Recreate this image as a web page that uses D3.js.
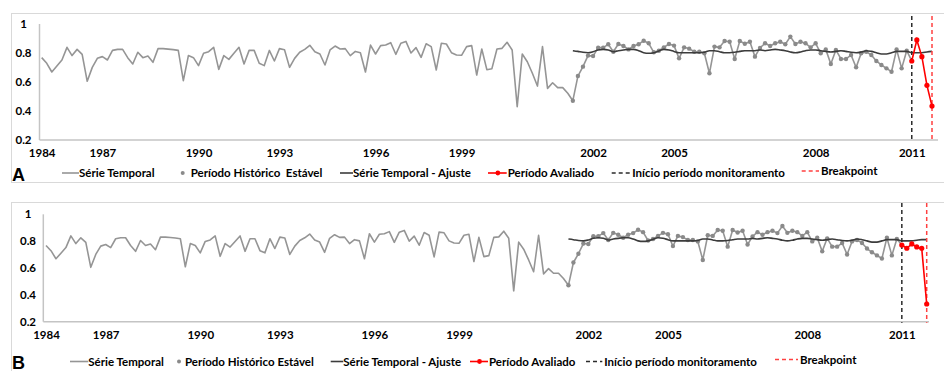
<!DOCTYPE html>
<html>
<head>
<meta charset="utf-8">
<script src="https://cdn.jsdelivr.net/npm/d3@7/dist/d3.min.js"></script>
<style>
  body { margin: 0; background: #fff; }
  svg { display: block; font-family: Lato, "Open Sans", sans-serif; font-weight: 700; }
</style>
</head>
<body>
<svg id="chart" width="944" height="371"></svg>
<script>
// Tick labels of the observation axis and the observation index they sit on
const yearLabels = ["1984", "1987", "1990", "1993", "1996", "1999", "2002", "2005", "2008", "2011"];
const yearIndex  = [0, 12, 31, 47, 66, 83, 109, 125, 153, 172];

// NDVI-like index, one value per observation (history before monitoring)
const serieTemporal = [
  0.768, 0.729, 0.669, 0.710, 0.752, 0.839, 0.782, 0.825, 0.791, 0.605,
  0.701, 0.763, 0.775, 0.752, 0.818, 0.825, 0.825, 0.768, 0.724, 0.805,
  0.768, 0.779, 0.736, 0.830, 0.830, 0.827, 0.823, 0.818, 0.609, 0.782,
  0.768, 0.713, 0.798, 0.809, 0.839, 0.687, 0.782, 0.756, 0.798, 0.839,
  0.724, 0.818, 0.818, 0.729, 0.713, 0.818, 0.745, 0.830, 0.823, 0.701,
  0.763, 0.805, 0.825, 0.853, 0.809, 0.793, 0.717, 0.821, 0.848, 0.828,
  0.830, 0.782, 0.811, 0.802, 0.669, 0.855, 0.793, 0.851, 0.855, 0.871,
  0.791, 0.867, 0.880, 0.800, 0.837, 0.770, 0.864, 0.844, 0.683, 0.867,
  0.862, 0.802, 0.786, 0.784, 0.844, 0.851, 0.648, 0.828, 0.685, 0.692,
  0.828, 0.832, 0.874, 0.821, 0.430, 0.793, 0.740, 0.660, 0.572, 0.844,
  0.556, 0.595, 0.561, 0.561, 0.522, 0.471, 0.641, 0.706, 0.782, 0.779,
  0.837, 0.837, 0.860, 0.809, 0.862, 0.848, 0.825, 0.848, 0.860, 0.885,
  0.867, 0.805, 0.816, 0.839, 0.862, 0.851, 0.763, 0.839, 0.830, 0.809,
  0.809, 0.798, 0.660, 0.844, 0.839, 0.883, 0.878, 0.759, 0.883, 0.864,
  0.878, 0.775, 0.835, 0.867, 0.848, 0.867, 0.878, 0.860, 0.913, 0.862,
  0.878, 0.867, 0.839, 0.867, 0.798, 0.825, 0.724, 0.821, 0.759, 0.759,
  0.786, 0.701, 0.798, 0.809, 0.786, 0.745, 0.717, 0.694, 0.671, 0.825,
  0.694, 0.816
];

// First observation of the stable history period and of the monitoring period
const inicioEstavel = 105;
const inicioMonitoramento = 172;

// Harmonic fit over the stable history, extended through monitoring
const ajusteA = [
  0.816, 0.811, 0.805, 0.802, 0.809, 0.821, 0.825, 0.821, 0.809, 0.816,
  0.821, 0.825, 0.825, 0.816, 0.802, 0.798, 0.802, 0.814, 0.825, 0.821,
  0.811, 0.802, 0.802, 0.802, 0.802, 0.802, 0.805, 0.816, 0.816, 0.809,
  0.802, 0.802, 0.805, 0.811, 0.816, 0.816, 0.816, 0.821, 0.816, 0.821,
  0.825, 0.821, 0.816, 0.807, 0.802, 0.807, 0.816, 0.821, 0.821, 0.816,
  0.811, 0.807, 0.811, 0.816, 0.811, 0.805, 0.802, 0.807, 0.816, 0.811,
  0.802, 0.793, 0.793, 0.802, 0.811, 0.811, 0.811, 0.802, 0.802, 0.802,
  0.807, 0.811
];
const ajusteB = ajusteA.concat([0.811]);

// Observations of the monitoring period
const avaliadoA = [0.745, 0.890, 0.775, 0.577, 0.434];
const avaliadoB = [0.771, 0.747, 0.779, 0.757, 0.747, 0.332];

const yTicks = [0.2, 0.4, 0.6, 0.8, 1];

const svg = d3.select("#chart");

const panels = [
  {
    letter: "A", avaliado: avaliadoA, ajuste: ajusteA,
    frameTop: 13.5, frameBottom: 182.5,
    yTop: 24, yBottom: 140, axisX: 39.5, xFirst: 41.7, xLast: 932, axisEnd: 938,
    dashTop: 16, yLabelX: 23.5, tickY: 146, legendY: 173, letterY: 181,
    legend: { serie: [62, 79], estavel: [182.7, 190.7], ajuste: [340, 353],
              avaliado: [488, 507.7], inicio: [611.7, 632.3], breakpoint: [801.7, 821] },
    estavelLabel: "Período Histórico  Estável"
  },
  {
    letter: "B", avaliado: avaliadoB, ajuste: ajusteB,
    frameTop: 202.5, frameBottom: 380,
    yTop: 214.3, yBottom: 321.7, axisX: 43.3, xFirst: 46, xLast: 926.7, axisEnd: 929,
    dashTop: 203, yLabelX: 28, tickY: 328, legendY: 361.5, letterY: 368.5,
    legend: { serie: [70, 88.3], estavel: [179, 185], ajuste: [330.7, 343.3],
              avaliado: [470, 489], inicio: [586, 604.3], breakpoint: [775, 800] },
    estavelLabel: "Período Histórico Estável"
  }
];

const grayLine = "#959595";
const grayDot = "#8a8a8a";
const fitColor = "#3c3c3c";
const red = "#ff0000";
const axisColor = "#c4c4c4";

panels.forEach(p => {
  const n = inicioMonitoramento + p.avaliado.length;
  const x = d3.scaleLinear().domain([0, n - 1]).range([p.xFirst, p.xLast]);
  const y = d3.scaleLinear().domain([0.2, 1]).range([p.yBottom, p.yTop]);

  const g = svg.append("g");

  // panel frame
  g.append("rect")
    .attr("x", 11.5).attr("y", p.frameTop)
    .attr("width", 940).attr("height", p.frameBottom - p.frameTop)
    .attr("fill", "none").attr("stroke", "#d9d9d9").attr("stroke-width", 1);

  // axis lines
  g.append("line").attr("x1", p.axisX).attr("x2", p.axisX)
    .attr("y1", p.yTop).attr("y2", p.yBottom)
    .attr("stroke", axisColor).attr("stroke-width", 1.5);
  g.append("line").attr("x1", p.axisX).attr("x2", p.axisEnd)
    .attr("y1", p.yBottom).attr("y2", p.yBottom)
    .attr("stroke", axisColor).attr("stroke-width", 1.5);

  // y axis labels
  const yAxis = d3.axisLeft(y).tickValues(yTicks).tickSize(0)
    .tickFormat(d => d === 1 ? "1" : d3.format(".1f")(d));
  const ya = g.append("g").attr("transform", `translate(${p.yLabelX},0)`).call(yAxis);
  ya.select(".domain").remove();
  ya.selectAll("text").attr("x", 0).attr("text-anchor", "middle")
    .attr("font-family", "Lato, 'Open Sans', sans-serif").attr("font-weight", 700)
    .attr("font-size", 11.5).attr("fill", "#000");

  // x axis labels (years at their observation index)
  const xAxis = d3.axisBottom(x).tickValues(yearIndex).tickSize(0)
    .tickFormat((d, i) => yearLabels[i]);
  const xa = g.append("g").attr("transform", `translate(0,${p.tickY})`).call(xAxis);
  xa.select(".domain").remove();
  xa.selectAll("text")
    .attr("font-family", "Lato, 'Open Sans', sans-serif").attr("font-weight", 700)
    .attr("font-size", 11.5).attr("fill", "#000");

  // full time series (gray line)
  const full = serieTemporal.concat(p.avaliado).map((v, i) => [i, v]);
  const line = d3.line().x(d => x(d[0])).y(d => y(d[1]));
  g.append("path").datum(full.slice(0, inicioMonitoramento + 1))
    .attr("d", line).attr("fill", "none")
    .attr("stroke", grayLine).attr("stroke-width", 1.6).attr("stroke-linejoin", "round");

  // stable history markers
  g.selectAll("circle.estavel")
    .data(full.slice(inicioEstavel, inicioMonitoramento))
    .join("circle").attr("class", "estavel")
    .attr("cx", d => x(d[0])).attr("cy", d => y(d[1])).attr("r", 2.2)
    .attr("fill", grayDot);

  // harmonic fit
  const fit = p.ajuste.map((v, i) => [inicioEstavel + i, v]);
  g.append("path").datum(fit).attr("d", d3.line().curve(d3.curveMonotoneX).x(d => x(d[0])).y(d => y(d[1])))
    .attr("fill", "none").attr("stroke", fitColor).attr("stroke-width", 1.6);

  // monitoring start and breakpoint
  g.append("line").attr("x1", x(inicioMonitoramento)).attr("x2", x(inicioMonitoramento))
    .attr("y1", p.dashTop).attr("y2", p.yBottom + 1)
    .attr("stroke", "#2b2b2b").attr("stroke-width", 1.5).attr("stroke-dasharray", "4,3");
  g.append("line").attr("x1", x(n - 1)).attr("x2", x(n - 1))
    .attr("y1", p.dashTop).attr("y2", p.yBottom + 1)
    .attr("stroke", "#ff4040").attr("stroke-width", 1.5).attr("stroke-dasharray", "4,3");

  // evaluated period
  const aval = full.slice(inicioMonitoramento);
  g.append("path").datum(aval).attr("d", line).attr("fill", "none")
    .attr("stroke", red).attr("stroke-width", 1.6);
  g.selectAll("circle.aval").data(aval).join("circle").attr("class", "aval")
    .attr("cx", d => x(d[0])).attr("cy", d => y(d[1])).attr("r", 2.6).attr("fill", red);

  // legend
  const L = p.legend, ly = p.legendY;
  const lg = g.append("g").attr("font-size", 11.5);
  const txt = (xx, s) => lg.append("text").attr("x", xx).attr("y", ly + 4)
    .attr("fill", "#000").style("white-space", "pre").text(s);

  lg.append("line").attr("x1", L.serie[0]).attr("x2", L.serie[1]).attr("y1", ly).attr("y2", ly)
    .attr("stroke", grayLine).attr("stroke-width", 1.6);
  txt(L.serie[1], "Série Temporal");

  lg.append("circle").attr("cx", L.estavel[0]).attr("cy", ly).attr("r", 2).attr("fill", grayDot);
  txt(L.estavel[1], p.estavelLabel);

  lg.append("line").attr("x1", L.ajuste[0]).attr("x2", L.ajuste[1]).attr("y1", ly).attr("y2", ly)
    .attr("stroke", fitColor).attr("stroke-width", 1.6);
  txt(L.ajuste[1], "Série Temporal - Ajuste");

  lg.append("line").attr("x1", L.avaliado[0]).attr("x2", L.avaliado[1] - 1).attr("y1", ly).attr("y2", ly)
    .attr("stroke", red).attr("stroke-width", 1.6);
  lg.append("circle").attr("cx", (L.avaliado[0] + L.avaliado[1]) / 2).attr("cy", ly).attr("r", 2.4).attr("fill", red);
  txt(L.avaliado[1], "Período Avaliado");

  lg.append("line").attr("x1", L.inicio[0]).attr("x2", L.inicio[1] - 2).attr("y1", ly).attr("y2", ly)
    .attr("stroke", "#2b2b2b").attr("stroke-width", 1.5).attr("stroke-dasharray", "4,3");
  txt(L.inicio[1], "Início período monitoramento");

  lg.append("line").attr("x1", L.breakpoint[0]).attr("x2", L.breakpoint[1] - 2).attr("y1", ly - 2).attr("y2", ly - 2)
    .attr("stroke", "#ff4040").attr("stroke-width", 1.5).attr("stroke-dasharray", "4,3");
  lg.append("text").attr("x", L.breakpoint[1]).attr("y", ly + 2).attr("fill", "#000").text("Breakpoint");

  // panel letter
  g.append("text").attr("x", 12).attr("y", p.letterY)
    .attr("font-family", "'Liberation Sans', Arial, sans-serif").attr("font-weight", 700)
    .attr("font-size", 18).attr("fill", "#000").text(p.letter);
});
</script>
</body>
</html>
